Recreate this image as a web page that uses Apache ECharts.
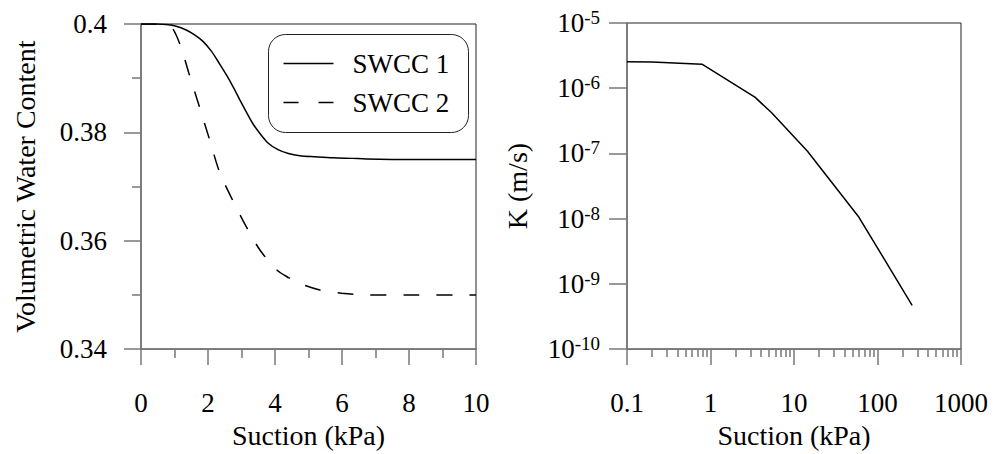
<!DOCTYPE html>
<html>
<head>
<meta charset="utf-8">
<script src="https://cdn.jsdelivr.net/npm/echarts@6/dist/echarts.min.js"></script>
<style>
html,body{margin:0;padding:0;background:#fff;}
#chart{width:994px;height:454px;}
</style>
</head>
<body>
<div id="chart"></div>
<script>
// ---- Data ----
const swcc1Suction = [0, 0.5, 0.76, 1.05, 1.35, 1.6, 1.85, 2.1, 2.35, 2.55, 2.75, 2.95, 3.15, 3.35, 3.55, 3.8, 4.09, 4.4, 4.74, 5.2, 5.74, 6.3, 6.73, 8, 10];
const swcc1Theta   = [0.4, 0.4, 0.3999, 0.3996, 0.3989, 0.398, 0.3968, 0.395, 0.3926, 0.3906, 0.3884, 0.386, 0.3837, 0.3815, 0.3798, 0.378, 0.3768, 0.3761, 0.3757, 0.3755, 0.3753, 0.3752, 0.3751, 0.375, 0.375];

const swcc2Suction = [0, 0.4, 0.66, 0.8, 0.96, 1.2, 1.45, 1.75, 2.05, 2.35, 2.75, 3.15, 3.55, 4.04, 4.4, 4.74, 5.34, 5.99, 6.73, 8, 10];
const swcc2Theta   = [0.4, 0.4, 0.3998, 0.3994, 0.399, 0.3956, 0.3905, 0.3846, 0.3786, 0.3726, 0.3673, 0.3625, 0.3583, 0.3547, 0.3532, 0.3521, 0.3509, 0.3503, 0.35, 0.35, 0.35];

const kSuction = [0.1, 0.2, 0.79, 3.4, 5.4, 14.5, 60, 260];
const kValues  = [2.54e-6, 2.52e-6, 2.34e-6, 7.3e-7, 4.2e-7, 1.08e-7, 1.05e-8, 4.7e-10];

const leftXTicks = [0, 2, 4, 6, 8, 10];
const leftYTicks = ['0.34', '0.36', '0.38', '0.4'];
const rightXTickLabels = ['0.1', '1', '10', '100', '1000'];
const rightYExponents = [-10, -9, -8, -7, -6, -5];
const legendNames = ['SWCC 1', 'SWCC 2'];

// minor log ticks (2..9 in each decade)
const logMinorTicks = [];
[0.1, 1, 10, 100].forEach(d => { for (let m = 2; m <= 9; m++) logMinorTicks.push(+(m * d).toPrecision(3)); });

const FONT = '"Liberation Serif", "Times New Roman", serif';
const AX = '#777';
const FS = 27;
const NFS = 28;

const zip = (a, b) => a.map((v, i) => [v, b[i]]);

const chart = echarts.init(document.getElementById('chart'), null, {renderer: 'svg'});

const baseAxisLine = {show: true, lineStyle: {color: AX, width: 1.5}};
const labelStyle = () => ({color: '#000', fontFamily: FONT, fontSize: FS});
const nameStyle = () => ({color: '#000', fontFamily: FONT, fontSize: NFS});

const option = {
  animation: false,
  backgroundColor: '#fff',
  textStyle: {fontFamily: FONT},
  grid: [
    {left: 141, top: 24, width: 335, height: 335, show: true, borderColor: '#222', borderWidth: 1, backgroundColor: 'transparent'},
    {left: 627, top: 23, width: 334, height: 335, show: true, borderColor: '#222', borderWidth: 1, backgroundColor: 'transparent'}
  ],
  xAxis: [
    {
      gridIndex: 0, type: 'value', position: 'bottom', min: 0, max: 10, interval: 2,
      axisLine: baseAxisLine,
      axisTick: {show: true, inside: false, length: 16, lineStyle: {color: AX, width: 1.5}},
      minorTick: {show: true, splitNumber: 2, length: 9, lineStyle: {color: AX, width: 1.5}},
      splitLine: {show: false}, minorSplitLine: {show: false},
      axisLabel: Object.assign({margin: 40, formatter: v => leftXTicks.includes(v) ? String(v) : ''}, labelStyle()),
      name: 'Suction (kPa)', nameLocation: 'middle', nameGap: 68,
      nameTextStyle: nameStyle()
    },
    {
      gridIndex: 1, type: 'log', position: 'bottom', logBase: 10, min: 0.1, max: 1000,
      axisLine: baseAxisLine,
      axisTick: {show: true, inside: false, length: 16, lineStyle: {color: AX, width: 1.5}},
      splitLine: {show: false},
      axisLabel: Object.assign({margin: 40, formatter: v => rightXTickLabels[Math.round(Math.log10(v)) + 1]}, labelStyle()),
      name: 'Suction (kPa)', nameLocation: 'middle', nameGap: 68,
      nameTextStyle: nameStyle()
    },
    {
      gridIndex: 1, type: 'log', position: 'bottom', offset: 0, logBase: 10, min: 0.1, max: 1000,
      axisLine: {show: false},
      axisTick: {show: true, inside: false, length: 8, customValues: logMinorTicks, lineStyle: {color: AX, width: 1.5}},
      splitLine: {show: false},
      axisLabel: {show: false}
    }
  ],
  yAxis: [
    {
      gridIndex: 0, type: 'value', min: 0.34, max: 0.4, interval: 0.02,
      axisLine: baseAxisLine,
      axisTick: {show: true, inside: false, length: 17, lineStyle: {color: AX, width: 1.5}},
      minorTick: {show: true, splitNumber: 2, length: 9, lineStyle: {color: AX, width: 1.5}},
      splitLine: {show: false}, minorSplitLine: {show: false},
      axisLabel: Object.assign({margin: 34, formatter: v => {
        const s = String(+v.toFixed(2));
        return leftYTicks.includes(s) ? s : '';
      }}, labelStyle()),
      name: 'Volumetric Water Content', nameLocation: 'middle', nameGap: 102,
      nameTextStyle: nameStyle()
    },
    {
      gridIndex: 1, type: 'log', logBase: 10, min: 1e-10, max: 1e-5,
      axisLine: baseAxisLine,
      axisTick: {show: true, inside: false, length: 18, lineStyle: {color: AX, width: 1.5}},
      splitLine: {show: false},
      axisLabel: {
        margin: 27,
        formatter: v => {
          const e = Math.round(Math.log10(v));
          return rightYExponents.includes(e) ? '{b|10}{s|' + e + '}' : '';
        },
        rich: {
          b: {fontFamily: FONT, fontSize: FS, color: '#000', lineHeight: 30},
          s: {fontFamily: FONT, fontSize: 19, color: '#000', verticalAlign: 'top', lineHeight: 30}
        }
      },
      name: 'K (m/s)', nameLocation: 'middle', nameGap: 96,
      nameTextStyle: nameStyle()
    }
  ],
  series: [
    {
      name: legendNames[0], type: 'line', xAxisIndex: 0, yAxisIndex: 0,
      data: zip(swcc1Suction, swcc1Theta), smooth: 0.3, showSymbol: false, symbol: 'none',
      lineStyle: {color: '#000', width: 1.5}, clip: true
    },
    {
      name: legendNames[1], type: 'line', xAxisIndex: 0, yAxisIndex: 0,
      data: zip(swcc2Suction, swcc2Theta), smooth: 0.3, showSymbol: false, symbol: 'none',
      lineStyle: {color: '#000', width: 1.5, type: [16, 17]}, clip: true
    },
    {
      name: 'K', type: 'line', xAxisIndex: 1, yAxisIndex: 1,
      data: zip(kSuction, kValues), showSymbol: false, symbol: 'none',
      lineStyle: {color: '#000', width: 1.5}
    }
  ],
  graphic: [
    {
      type: 'group', left: 268, top: 34, children: [
        {type: 'rect', shape: {x: 0, y: 0, width: 200, height: 98, r: 17}, style: {fill: '#fff', stroke: '#222', lineWidth: 1}},
        {type: 'line', shape: {x1: 15, y1: 29, x2: 65, y2: 29}, style: {stroke: '#000', lineWidth: 1.5}},
        {type: 'line', shape: {x1: 15, y1: 68, x2: 65, y2: 68}, style: {stroke: '#000', lineWidth: 1.5, lineDash: [15, 20]}},
        {type: 'text', x: 84, y: 29, style: {text: legendNames[0], fontFamily: FONT, fontSize: FS, fill: '#000', textVerticalAlign: 'middle', verticalAlign: 'middle'}},
        {type: 'text', x: 84, y: 68, style: {text: legendNames[1], fontFamily: FONT, fontSize: FS, fill: '#000', textVerticalAlign: 'middle', verticalAlign: 'middle'}}
      ]
    }
  ]
};
chart.setOption(option);
</script>
</body>
</html>
